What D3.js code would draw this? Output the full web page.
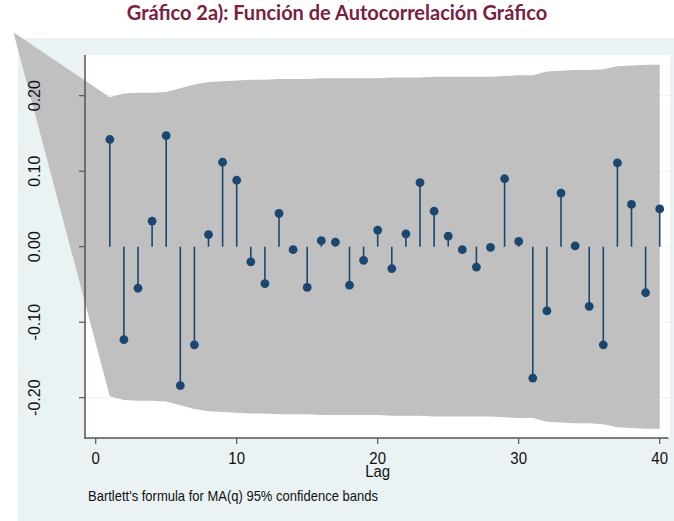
<!DOCTYPE html>
<html>
<head>
<meta charset="utf-8">
<script src="https://cdn.jsdelivr.net/npm/d3@7"></script>
<style>
  body { margin: 0; background: #ffffff; }
  svg { display: block; font-family: "Liberation Sans", Arial, sans-serif; }
</style>
</head>
<body>
<div id="chart"></div>
<script>
// autocorrelations, lags 1..40
var lags = d3.range(1, 41);
var acf = [
  0.142, -0.123, -0.055, 0.034, 0.147, -0.184, -0.130, 0.016, 0.112, 0.088,
  -0.020, -0.049, 0.044, -0.004, -0.054, 0.008, 0.006, -0.051, -0.018, 0.022,
  -0.029, 0.017, 0.085, 0.047, 0.014, -0.004, -0.027, -0.001, 0.090, 0.007,
  -0.174, -0.085, 0.071, 0.001, -0.079, -0.130, 0.111, 0.056, -0.061, 0.050
];
// Bartlett 95% band half-width, lags 1..40
var band = [
  0.198, 0.203, 0.204, 0.204, 0.205, 0.210, 0.215, 0.218, 0.219, 0.220,
  0.221, 0.221, 0.222, 0.222, 0.222, 0.223, 0.223, 0.223, 0.223, 0.223,
  0.224, 0.224, 0.224, 0.225, 0.225, 0.225, 0.225, 0.225, 0.226, 0.227,
  0.227, 0.232, 0.233, 0.234, 0.234, 0.235, 0.239, 0.240, 0.241, 0.241
];
// stray vertex where the band polygon starts (off to the upper left)
var bandStart = { lag: -5.84, value: 0.284 };
var yTicks = [-0.2, -0.1, 0, 0.1, 0.2];
var yTickLabels = ["-0.20", "-0.10", "0.00", "0.10", "0.20"];
var xTicks = [0, 10, 20, 30, 40];

var width = 674, height = 521;
var navy = "#1a476f";
var stretch = "scale(1,1.15)";   // the source image is a bit taller than wide

var svg = d3.select("#chart").append("svg")
  .attr("width", width)
  .attr("height", height);

// graph region + plot region
svg.append("rect")
  .attr("x", 18).attr("y", 38)
  .attr("width", width - 18).attr("height", height - 38)
  .attr("fill", "#eaf2f3");
svg.append("rect")
  .attr("x", 85).attr("y", 55)
  .attr("width", 585).attr("height", 383)
  .attr("fill", "#ffffff");

var x = d3.scaleLinear().domain([0, 40]).range([95.7, 659.7]);
var y = d3.scaleLinear().domain([-0.2, 0.2]).range([397.7, 95.7]);

// grid
svg.append("g")
  .selectAll("line")
  .data(yTicks)
  .enter()
  .append("line")
  .attr("x1", 85).attr("x2", 670)
  .attr("y1", d => y(d)).attr("y2", d => y(d))
  .attr("stroke", "#eaf2f3")
  .attr("stroke-width", 1);

// confidence band
var upper = lags.map((l, i) => [x(l), y(band[i])]);
var lower = lags.map((l, i) => [x(l), y(-band[i])]).reverse();
var start = [x(bandStart.lag), y(bandStart.value)];
var pts = [start].concat(upper, lower);
svg.append("path")
  .attr("d", d3.line()(pts) + "Z")
  .attr("fill", "#c0c0c0");

// axes
svg.append("line")
  .attr("x1", 85).attr("x2", 85).attr("y1", 55).attr("y2", 438.5)
  .attr("stroke", "#555").attr("stroke-width", 1.5);
svg.append("line")
  .attr("x1", 84.3).attr("x2", 668.5).attr("y1", 438).attr("y2", 438)
  .attr("stroke", "#555").attr("stroke-width", 1.5);

svg.append("g")
  .selectAll("line")
  .data(yTicks)
  .enter()
  .append("line")
  .attr("x1", 79).attr("x2", 85)
  .attr("y1", d => y(d)).attr("y2", d => y(d))
  .attr("stroke", "#555").attr("stroke-width", 1.2);

svg.append("g")
  .selectAll("text")
  .data(yTicks)
  .enter()
  .append("text")
  .attr("transform", d => "translate(40," + y(d) + ") rotate(-90)")
  .attr("text-anchor", "middle")
  .style("font-size", "16px")
  .attr("fill", "#111")
  .text((d, i) => yTickLabels[i]);

svg.append("g")
  .selectAll("line")
  .data(xTicks)
  .enter()
  .append("line")
  .attr("x1", d => x(d)).attr("x2", d => x(d))
  .attr("y1", 438).attr("y2", 444)
  .attr("stroke", "#555").attr("stroke-width", 1.2);

svg.append("g")
  .selectAll("text")
  .data(xTicks)
  .enter()
  .append("text")
  .attr("transform", d => "translate(" + x(d) + ",464) " + stretch)
  .attr("text-anchor", "middle")
  .style("font-size", "15px")
  .attr("fill", "#111")
  .text(d => d);

svg.append("text")
  .attr("transform", "translate(" + x(20) + ",477) " + stretch)
  .attr("text-anchor", "middle")
  .style("font-size", "15px")
  .attr("fill", "#111")
  .text("Lag");

svg.append("text")
  .attr("transform", "translate(88,501) " + stretch)
  .style("font-size", "13px")
  .attr("fill", "#111")
  .text("Bartlett's formula for MA(q) 95% confidence bands");

// spikes
svg.append("g")
  .selectAll("line")
  .data(acf)
  .enter()
  .append("line")
  .attr("x1", (d, i) => x(lags[i])).attr("x2", (d, i) => x(lags[i]))
  .attr("y1", y(0)).attr("y2", d => y(d))
  .attr("stroke", navy).attr("stroke-width", 1.6);

svg.append("g")
  .selectAll("circle")
  .data(acf)
  .enter()
  .append("circle")
  .attr("cx", (d, i) => x(lags[i]))
  .attr("cy", d => y(d))
  .attr("r", 4.4)
  .attr("fill", navy);

// title
svg.append("text")
  .attr("x", 337).attr("y", 20)
  .attr("text-anchor", "middle")
  .style("font-family", "Lato, 'Open Sans', sans-serif")
  .style("font-weight", "bold")
  .style("font-size", "20px")
  .attr("fill", "#7a2040")
  .text("Gráfico 2a): Función de Autocorrelación Gráfico");
</script>
</body>
</html>
